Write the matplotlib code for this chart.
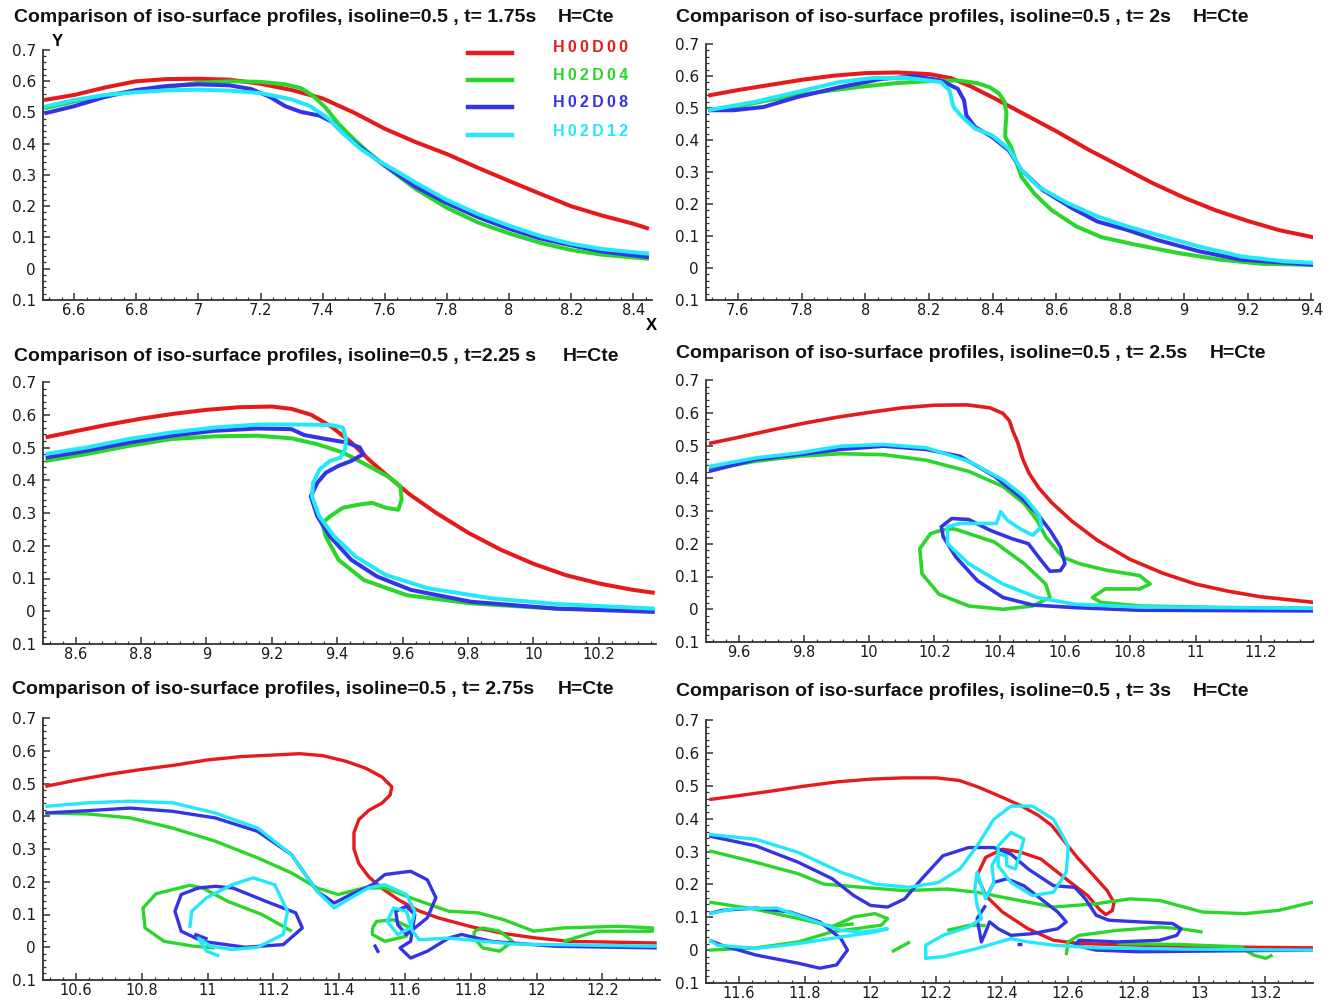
import matplotlib
matplotlib.use("Agg")
import matplotlib.pyplot as plt
from matplotlib.ticker import MultipleLocator, FuncFormatter

plt.rcParams['font.family'] = ['Liberation Sans', 'DejaVu Sans']

W, H = 1338, 1002

series_names = ['H00D00', 'H02D04', 'H02D08', 'H02D12']
series_colors = ['#e61a1a', '#2ad62a', '#3434e6', '#22e8fa']
times = ['t= 1.75s', 't= 2s', 't=2.25 s', 't= 2.5s', 't= 2.75s', 't= 3s']
xlims = [(6.5, 8.46), (7.5, 9.405), (8.5, 10.375), (9.5, 11.36), (10.5, 12.375), (11.5, 13.345)]

# ---- t = 1.75 s ----
p1_red = [([6.504, 6.6, 6.7, 6.8, 6.9, 7.0, 7.1, 7.2, 7.3, 7.4, 7.5, 7.6, 7.7, 7.8, 7.9, 8.0, 8.1, 8.2, 8.3, 8.4, 8.45],
           [0.54, 0.556, 0.58, 0.6, 0.607, 0.608, 0.605, 0.592, 0.572, 0.545, 0.5, 0.448, 0.405, 0.367, 0.323, 0.281, 0.24, 0.2, 0.17, 0.144, 0.128])]
p1_green = [([6.504, 6.6, 6.7, 6.8, 6.9, 7.0, 7.1, 7.2, 7.28, 7.33, 7.37, 7.41, 7.45, 7.5, 7.55, 7.6, 7.7, 7.8, 7.9, 8.0, 8.1, 8.2, 8.3, 8.45],
             [0.513, 0.535, 0.555, 0.57, 0.582, 0.595, 0.6, 0.598, 0.59, 0.578, 0.553, 0.515, 0.465, 0.415, 0.37, 0.33, 0.255, 0.195, 0.148, 0.113, 0.083, 0.06, 0.045, 0.032])]
p1_blue = [([6.504, 6.6, 6.7, 6.8, 6.9, 7.0, 7.1, 7.17, 7.23, 7.28, 7.33, 7.39, 7.43, 7.47, 7.52, 7.6, 7.7, 7.8, 7.9, 8.0, 8.1, 8.2, 8.3, 8.45],
            [0.497, 0.52, 0.55, 0.572, 0.585, 0.59, 0.587, 0.575, 0.55, 0.52, 0.502, 0.49, 0.47, 0.43, 0.39, 0.33, 0.262, 0.21, 0.165, 0.128, 0.097, 0.075, 0.055, 0.037])]
p1_cyan = [([6.504, 6.6, 6.7, 6.8, 6.9, 7.0, 7.1, 7.2, 7.3, 7.36, 7.42, 7.47, 7.52, 7.58, 7.65, 7.7, 7.8, 7.9, 8.0, 8.1, 8.2, 8.3, 8.45],
            [0.518, 0.54, 0.556, 0.565, 0.571, 0.573, 0.57, 0.562, 0.542, 0.52, 0.48, 0.43, 0.385, 0.345, 0.305, 0.275, 0.22, 0.175, 0.138, 0.105, 0.08, 0.063, 0.048])]

# ---- t = 2 s ----
p2_red = [([7.507, 7.6, 7.7, 7.8, 7.9, 8.0, 8.1, 8.2, 8.27, 8.33, 8.4, 8.5, 8.6, 8.7, 8.8, 8.9, 9.0, 9.1, 9.2, 9.3, 9.406],
           [0.539, 0.556, 0.572, 0.588, 0.601, 0.609, 0.611, 0.606, 0.593, 0.568, 0.533, 0.48, 0.427, 0.37, 0.318, 0.266, 0.22, 0.18, 0.147, 0.118, 0.096])]
p2_green = [([7.507, 7.6, 7.7, 7.8, 7.9, 8.0, 8.1, 8.2, 8.29, 8.35, 8.39, 8.42, 8.437, 8.443, 8.44, 8.439, 8.457, 8.47, 8.49, 8.53, 8.583, 8.662, 8.742, 8.848, 8.981, 9.114, 9.247, 9.406],
             [0.493, 0.505, 0.525, 0.542, 0.556, 0.568, 0.578, 0.584, 0.586, 0.578, 0.565, 0.545, 0.519, 0.482, 0.44, 0.41, 0.379, 0.342, 0.285, 0.233, 0.182, 0.13, 0.096, 0.073, 0.047, 0.026, 0.013, 0.01])]
p2_blue = [([7.507, 7.587, 7.68, 7.786, 7.919, 8.052, 8.158, 8.237, 8.29, 8.31, 8.317, 8.344, 8.397, 8.45, 8.49, 8.556, 8.649, 8.729, 8.822, 8.915, 9.048, 9.18, 9.406],
            [0.493, 0.493, 0.503, 0.534, 0.565, 0.591, 0.599, 0.586, 0.56, 0.524, 0.477, 0.441, 0.41, 0.368, 0.306, 0.244, 0.187, 0.145, 0.119, 0.088, 0.052, 0.026, 0.01])]
p2_cyan = [([7.507, 7.653, 7.786, 7.919, 8.025, 8.131, 8.237, 8.264, 8.277, 8.304, 8.344, 8.397, 8.45, 8.49, 8.543, 8.636, 8.729, 8.822, 8.915, 9.048, 9.18, 9.313, 9.406],
            [0.493, 0.519, 0.55, 0.581, 0.594, 0.594, 0.581, 0.555, 0.503, 0.472, 0.436, 0.415, 0.373, 0.306, 0.254, 0.202, 0.161, 0.13, 0.104, 0.067, 0.036, 0.021, 0.016])]

# ---- t = 2.25 s ----
p3_red = [([8.508, 8.6, 8.7, 8.8, 8.9, 9.0, 9.1, 9.2, 9.26, 9.32, 9.38, 9.44, 9.5, 9.56, 9.62, 9.7, 9.8, 9.9, 10.0, 10.1, 10.2, 10.3, 10.371],
           [0.531, 0.55, 0.57, 0.588, 0.603, 0.615, 0.623, 0.625, 0.618, 0.6, 0.565, 0.518, 0.46, 0.408, 0.358, 0.302, 0.24, 0.188, 0.145, 0.11, 0.085, 0.066, 0.056])]
p3_green = [([8.508, 8.633, 8.763, 8.894, 9.025, 9.156, 9.26, 9.339, 9.417, 9.495, 9.561, 9.593, 9.597, 9.587, 9.548, 9.508, 9.469, 9.417, 9.378, 9.354,
              9.365, 9.404, 9.482, 9.613, 9.809, 10.071, 10.371],
             [0.459, 0.48, 0.505, 0.526, 0.534, 0.536, 0.528, 0.51, 0.485, 0.444, 0.408, 0.382, 0.341, 0.31, 0.316, 0.331, 0.326, 0.316, 0.29, 0.269,
              0.228, 0.157, 0.095, 0.049, 0.024, 0.008, 0.003])]
p3_blue = [([8.508, 8.633, 8.763, 8.894, 9.025, 9.156, 9.26, 9.299, 9.365, 9.43, 9.469, 9.48, 9.443, 9.404, 9.365, 9.339, 9.319, 9.339, 9.378, 9.443,
             9.522, 9.626, 9.809, 10.071, 10.371],
            [0.469, 0.49, 0.515, 0.536, 0.551, 0.558, 0.556, 0.538, 0.526, 0.515, 0.5, 0.48, 0.459, 0.444, 0.423, 0.392, 0.351, 0.29, 0.228, 0.157,
             0.106, 0.065, 0.029, 0.008, -0.002])]
p3_cyan = [([8.508, 8.633, 8.763, 8.894, 9.025, 9.156, 9.286, 9.378, 9.417, 9.427, 9.424, 9.41, 9.378, 9.346, 9.326, 9.323, 9.345, 9.391, 9.456,
             9.548, 9.678, 9.875, 10.071, 10.371],
            [0.48, 0.5, 0.526, 0.546, 0.561, 0.57, 0.57, 0.569, 0.561, 0.526, 0.495, 0.469, 0.459, 0.433, 0.392, 0.351, 0.29, 0.228, 0.167,
             0.111, 0.07, 0.039, 0.022, 0.008])]

# ---- t = 2.5 s ----
p4_red = [([9.509, 9.6, 9.7, 9.8, 9.9, 10.0, 10.1, 10.2, 10.3, 10.37, 10.41, 10.43, 10.44, 10.455, 10.47, 10.49, 10.52, 10.56, 10.62, 10.7, 10.8, 10.9, 11.0, 11.1, 11.2, 11.363],
           [0.506, 0.525, 0.547, 0.568, 0.586, 0.601, 0.615, 0.623, 0.624, 0.615, 0.598, 0.575, 0.545, 0.51, 0.46, 0.415, 0.37, 0.325, 0.27, 0.21, 0.152, 0.11, 0.077, 0.055, 0.038, 0.021])]
p4_green = [([9.509, 9.652, 9.783, 9.913, 10.044, 10.175, 10.305, 10.41, 10.475, 10.514, 10.541, 10.593, 10.645, 10.723, 10.828, 10.861, 10.828, 10.723, 10.684, 10.71, 10.828, 11.089, 11.363],
             [0.426, 0.452, 0.467, 0.475, 0.472, 0.455, 0.421, 0.375, 0.323, 0.272, 0.221, 0.159, 0.139, 0.12, 0.103, 0.077, 0.062, 0.062, 0.036, 0.021, 0.01, 0.005, 0.003]),
            ([10.26, 10.384, 10.475, 10.541, 10.554, 10.501, 10.41, 10.305, 10.214, 10.162, 10.155, 10.188, 10.227, 10.26],
             [0.246, 0.205, 0.139, 0.077, 0.036, 0.01, 0.0, 0.01, 0.046, 0.108, 0.185, 0.231, 0.243, 0.246])]
p4_blue = [([9.509, 9.652, 9.783, 9.913, 10.044, 10.175, 10.279, 10.384, 10.462, 10.514, 10.554, 10.586, 10.6, 10.586, 10.554, 10.527, 10.488, 10.436, 10.371, 10.305,
             10.253, 10.221, 10.227, 10.266, 10.332, 10.41, 10.501, 10.632, 10.828, 11.363],
            [0.421, 0.457, 0.472, 0.488, 0.498, 0.488, 0.467, 0.406, 0.344, 0.293, 0.241, 0.19, 0.139, 0.118, 0.116, 0.149, 0.2, 0.216, 0.241, 0.274,
             0.277, 0.252, 0.221, 0.159, 0.087, 0.036, 0.013, 0.005, -0.003, -0.005])]
p4_cyan = [([9.509, 9.652, 9.783, 9.913, 10.044, 10.175, 10.305, 10.41, 10.475, 10.521, 10.528, 10.501, 10.462, 10.423, 10.403, 10.39, 10.358, 10.279, 10.24, 10.24,
             10.305, 10.41, 10.514, 10.632, 10.828, 11.363],
            [0.436, 0.462, 0.477, 0.498, 0.503, 0.493, 0.452, 0.395, 0.344, 0.287, 0.252, 0.226, 0.246, 0.272, 0.298, 0.262, 0.262, 0.262, 0.252, 0.2,
             0.139, 0.077, 0.036, 0.015, 0.007, 0.003])]

# ---- t = 2.75 s ----
p5_red = [([10.507, 10.6, 10.7, 10.8, 10.9, 11.0, 11.1, 11.2, 11.28, 11.35, 11.42, 11.48, 11.53, 11.56, 11.555, 11.53, 11.49, 11.46, 11.445, 11.445,
            11.46, 11.49, 11.53, 11.58, 11.64, 11.7, 11.8, 11.9, 12.0, 12.1, 12.365],
           [0.491, 0.51, 0.528, 0.543, 0.556, 0.572, 0.582, 0.587, 0.591, 0.585, 0.568, 0.547, 0.52, 0.49, 0.465, 0.44, 0.418, 0.39, 0.35, 0.3,
            0.255, 0.215, 0.18, 0.145, 0.112, 0.09, 0.063, 0.042, 0.028, 0.018, 0.013])]
p5_green = [([10.507, 10.636, 10.765, 10.894, 11.023, 11.152, 11.255, 11.333, 11.397, 11.475, 11.539, 11.617, 11.733, 11.823, 11.901, 11.991, 12.081, 12.249, 12.352, 12.352, 12.185, 12.081],
             [0.41, 0.407, 0.395, 0.364, 0.324, 0.273, 0.227, 0.181, 0.161, 0.181, 0.181, 0.151, 0.11, 0.105, 0.084, 0.049, 0.059, 0.064, 0.059, 0.049, 0.049, 0.018]),
            ([11.256, 11.165, 11.062, 10.985, 10.946, 10.894, 10.843, 10.804, 10.81, 10.868, 10.959, 11.023],
             [0.049, 0.1, 0.14, 0.181, 0.189, 0.176, 0.163, 0.12, 0.059, 0.018, 0.003, -0.002]),
            ([11.501, 11.514, 11.565, 11.617, 11.604, 11.539, 11.501, 11.501],
             [0.059, 0.079, 0.084, 0.059, 0.034, 0.018, 0.039, 0.059]),
            ([11.81, 11.836, 11.888, 11.927, 11.888, 11.836, 11.81, 11.81],
             [0.049, 0.059, 0.049, 0.018, -0.012, -0.002, 0.028, 0.049])]
p5_blue = [([10.507, 10.636, 10.765, 10.894, 11.023, 11.152, 11.255, 11.333, 11.385, 11.436, 11.501, 11.539, 11.617, 11.668, 11.694, 11.668, 11.63, 11.604,
             11.578, 11.572, 11.604, 11.63, 11.617, 11.585, 11.617, 11.668, 11.733, 11.772, 11.862, 12.055, 12.365],
            [0.41, 0.417, 0.425, 0.415, 0.395, 0.354, 0.283, 0.171, 0.135, 0.161, 0.191, 0.222, 0.232, 0.206, 0.151, 0.09, 0.059, 0.039,
             0.069, 0.11, 0.125, 0.1, 0.018, -0.002, -0.033, -0.012, 0.028, 0.039, 0.018, 0.003, -0.002]),
            ([10.972, 10.92, 10.901, 10.92, 10.985, 11.114, 11.23, 11.288, 11.268, 11.178, 11.077, 11.023, 10.972],
             [0.181, 0.161, 0.11, 0.049, 0.018, 0.0, 0.008, 0.059, 0.105, 0.14, 0.181, 0.186, 0.181]),
            ([10.96, 11.0], [0.04, 0.025]),
            ([11.507, 11.52], [0.008, -0.017])]
p5_cyan = [([10.507, 10.636, 10.765, 10.894, 11.023, 11.152, 11.255, 11.333, 11.385, 11.436, 11.488, 11.539, 11.604, 11.63, 11.617, 11.578, 11.546, 11.565,
             11.604, 11.623, 11.643, 11.733, 11.927, 12.365],
            [0.43, 0.441, 0.446, 0.441, 0.41, 0.364, 0.283, 0.171, 0.12, 0.151, 0.181, 0.191, 0.161, 0.11, 0.059, 0.039, 0.079, 0.12,
             0.11, 0.049, 0.023, 0.028, 0.01, 0.003]),
            ([10.946, 10.952, 10.997, 11.075, 11.139, 11.204, 11.243, 11.23, 11.152, 11.075, 11.01, 10.972, 10.997, 11.036],
             [0.059, 0.11, 0.151, 0.191, 0.212, 0.191, 0.11, 0.039, 0.0, -0.007, 0.003, 0.028, -0.012, -0.027])]

# ---- t = 3 s ----
p6_red = [([11.51, 11.6, 11.7, 11.8, 11.9, 12.0, 12.1, 12.2, 12.27, 12.33, 12.4, 12.46, 12.51, 12.55, 12.59, 12.63, 12.68, 12.72, 12.74, 12.735, 12.715,
            12.695, 12.66, 12.608, 12.556, 12.518, 12.453, 12.401, 12.35, 12.324, 12.35, 12.401, 12.479, 12.556, 12.634, 12.815, 13.009, 13.345],
           [0.458, 0.47, 0.484, 0.499, 0.512, 0.52, 0.524, 0.524, 0.516, 0.495, 0.465, 0.438, 0.41, 0.38, 0.33, 0.28, 0.225, 0.18, 0.145, 0.12, 0.108,
            0.125, 0.166, 0.206, 0.247, 0.277, 0.299, 0.307, 0.282, 0.227, 0.166, 0.116, 0.065, 0.03, 0.02, 0.015, 0.01, 0.007])]
p6_green = [([11.51, 11.652, 11.781, 11.858, 11.975, 12.104, 12.233, 12.324, 12.427, 12.556, 12.686, 12.789, 12.879, 13.009, 13.138, 13.241, 13.345],
             [0.302, 0.267, 0.232, 0.201, 0.191, 0.181, 0.186, 0.176, 0.156, 0.131, 0.141, 0.156, 0.151, 0.116, 0.111, 0.121, 0.146]),
            ([12.595, 12.601, 12.634, 12.75, 12.879, 12.944, 13.009],
             [-0.015, 0.025, 0.045, 0.06, 0.07, 0.065, 0.055]),
            ([12.75, 12.944, 13.125, 13.164, 13.202, 13.222],
             [0.02, 0.017, 0.01, -0.015, -0.025, -0.015]),
            ([11.51, 11.652, 11.781, 11.884, 11.949],
             [0.146, 0.124, 0.096, 0.072, 0.08]),
            ([11.884, 11.949, 12.013, 12.052, 12.033, 11.962, 11.884, 11.781, 11.652, 11.51],
             [0.072, 0.101, 0.111, 0.096, 0.076, 0.066, 0.056, 0.025, 0.007, 0.0]),
            ([12.065, 12.12], [-0.005, 0.025]),
            ([12.233, 12.298, 12.35], [0.06, 0.075, 0.075])]
p6_blue = [([11.51, 11.652, 11.781, 11.884, 11.949, 12.0, 12.052, 12.104, 12.156, 12.22, 12.298, 12.375, 12.427, 12.479, 12.556, 12.621, 12.653, 12.686,
             12.724, 12.815, 12.918, 12.944, 12.931, 12.879, 12.75, 12.634, 12.621, 12.686, 12.815, 13.009, 13.345],
            [0.347, 0.317, 0.267, 0.217, 0.166, 0.136, 0.131, 0.156, 0.217, 0.287, 0.312, 0.312, 0.292, 0.247, 0.196, 0.191, 0.156, 0.106,
             0.091, 0.086, 0.081, 0.065, 0.045, 0.03, 0.025, 0.03, 0.015, 0.0, -0.005, -0.003, 0.0]),
            ([12.35, 12.375, 12.414, 12.466, 12.518, 12.569, 12.595, 12.569, 12.492, 12.427, 12.388, 12.362, 12.35, 12.337, 12.324, 12.35],
             [0.156, 0.206, 0.217, 0.196, 0.156, 0.116, 0.086, 0.065, 0.05, 0.045, 0.065, 0.086, 0.055, 0.025, 0.096, 0.136]),
            ([11.51, 11.548, 11.652, 11.781, 11.846, 11.897, 11.93, 11.91, 11.846, 11.755, 11.652, 11.548, 11.51],
             [0.03, 0.015, -0.015, -0.04, -0.055, -0.045, 0.0, 0.035, 0.086, 0.116, 0.128, 0.121, 0.111]),
            ([12.446, 12.46], [0.02, 0.02])]
p6_cyan = [([11.51, 11.652, 11.781, 11.91, 12.013, 12.117, 12.207, 12.272, 12.324, 12.375, 12.427, 12.492, 12.556, 12.601, 12.595, 12.556, 12.492, 12.427,
             12.388, 12.388, 12.427, 12.466, 12.453, 12.44, 12.414, 12.414, 12.388, 12.369, 12.375, 12.35, 12.324, 12.317, 12.324, 12.337, 12.298,
             12.22, 12.168, 12.168, 12.22, 12.324, 12.427, 12.479, 12.556, 12.686, 12.944, 13.345],
            [0.352, 0.337, 0.297, 0.237, 0.201, 0.191, 0.206, 0.247, 0.317, 0.398, 0.438, 0.438, 0.398, 0.317, 0.237, 0.176, 0.166, 0.206,
             0.257, 0.317, 0.358, 0.338, 0.287, 0.247, 0.257, 0.287, 0.292, 0.257, 0.206, 0.156, 0.237, 0.186, 0.136, 0.096, 0.07,
             0.045, 0.015, -0.025, -0.02, 0.005, 0.035, 0.025, 0.015, 0.007, 0.003, 0.0]),
            ([11.51, 11.587, 11.716, 11.807, 11.91, 11.975, 12.052, 12.013, 11.91, 11.781, 11.652, 11.535, 11.51],
             [0.111, 0.126, 0.128, 0.096, 0.06, 0.055, 0.065, 0.055, 0.04, 0.02, 0.005, 0.015, 0.03])]

panels = [
    [p1_red, p1_green, p1_blue, p1_cyan],
    [p2_red, p2_green, p2_blue, p2_cyan],
    [p3_red, p3_green, p3_blue, p3_cyan],
    [p4_red, p4_green, p4_blue, p4_cyan],
    [p5_red, p5_green, p5_blue, p5_cyan],
    [p6_red, p6_green, p6_blue, p6_cyan],
]

# axes boxes in pixels: left, right, top, bottom
boxes = [(43, 652, 50, 300), (706, 1313, 44, 300),
         (43, 656, 382, 644), (706, 1313, 380, 642),
         (43, 660, 718, 980), (706, 1313, 720, 983)]
# title position (x, y) and H=Cte x position
title_pos = [(14, 17, 558), (676, 17, 1193), (14, 356, 563), (676, 354, 1210), (12, 690, 558), (676, 692, 1193)]
line_w = [2.9, 2.9, 2.9, 2.6, 2.4, 2.4]

fig = plt.figure(figsize=(W / 100, H / 100), dpi=100)

for i, (l, r, t, b) in enumerate(boxes):
    ax = fig.add_axes([l / W, 1 - b / H, (r - l) / W, (b - t) / H])
    for segs, c in zip(panels[i], series_colors):
        for xs, ys in segs:
            ax.plot(xs, ys, color=c, lw=line_w[i], solid_capstyle='butt', solid_joinstyle='round')
    ax.set_xlim(*xlims[i])
    ax.set_ylim(-0.1, 0.7)
    ax.spines['top'].set_visible(False)
    ax.spines['right'].set_visible(False)
    for s in ('left', 'bottom'):
        ax.spines[s].set_linewidth(1.3)
        ax.spines[s].set_color('#333333')
    ax.xaxis.set_major_locator(MultipleLocator(0.2))
    ax.xaxis.set_minor_locator(MultipleLocator(0.04))
    ax.xaxis.set_major_formatter(FuncFormatter(lambda v, p: '%g' % round(v, 2)))
    yt = [-0.1, 0, 0.1, 0.2, 0.3, 0.4, 0.5, 0.6, 0.7]
    ax.set_yticks(yt, ['0.1', '0', '0.1', '0.2', '0.3', '0.4', '0.5', '0.6', '0.7'])
    ax.yaxis.set_minor_locator(MultipleLocator(0.02))
    ax.tick_params(which='major', direction='in', length=5, width=1.1, color='#333333',
                   labelsize=11, labelcolor='#1a1a1a', pad=5)
    ax.tick_params(axis='x', which='major', labelsize=10.5, pad=2)
    ax.tick_params(which='minor', direction='in', length=2.5, width=0.9, color='#333333')
    for lab in ax.get_xticklabels() + ax.get_yticklabels():
        lab.set_fontfamily('DejaVu Sans')
    tx, ty, hx = title_pos[i]
    fig.text(tx / W, 1 - ty / H,
             'Comparison of iso-surface profiles, isoline=0.5 , ' + times[i],
             fontsize=14, fontweight='bold', va='center', ha='left', color='#111111')
    fig.text(hx / W, 1 - ty / H, 'H=Cte', fontsize=14, fontweight='bold',
             va='center', ha='left', color='#111111')
    if i == 0:
        fig.text(57 / W, 1 - 42 / H, 'Y', fontsize=12, fontweight='bold', ha='center', va='center')
        fig.text(651 / W, 1 - 325 / H, 'X', fontsize=12, fontweight='bold', ha='center', va='center')
        leg_y = [53, 80, 107, 135]
        lab_y = [48, 75, 103, 131]
        for name, c, ly, ty2 in zip(series_names, series_colors, leg_y, lab_y):
            fig.add_artist(plt.Line2D([468 / W, 512 / W], [1 - ly / H, 1 - ly / H], color=c, lw=3.2))
            fig.text(553 / W, 1 - ty2 / H, '\u2009'.join(name), fontsize=11.5, fontweight='bold',
                     color=c, va='center', ha='left')

fig.savefig('out.png', dpi=100, facecolor='white')
